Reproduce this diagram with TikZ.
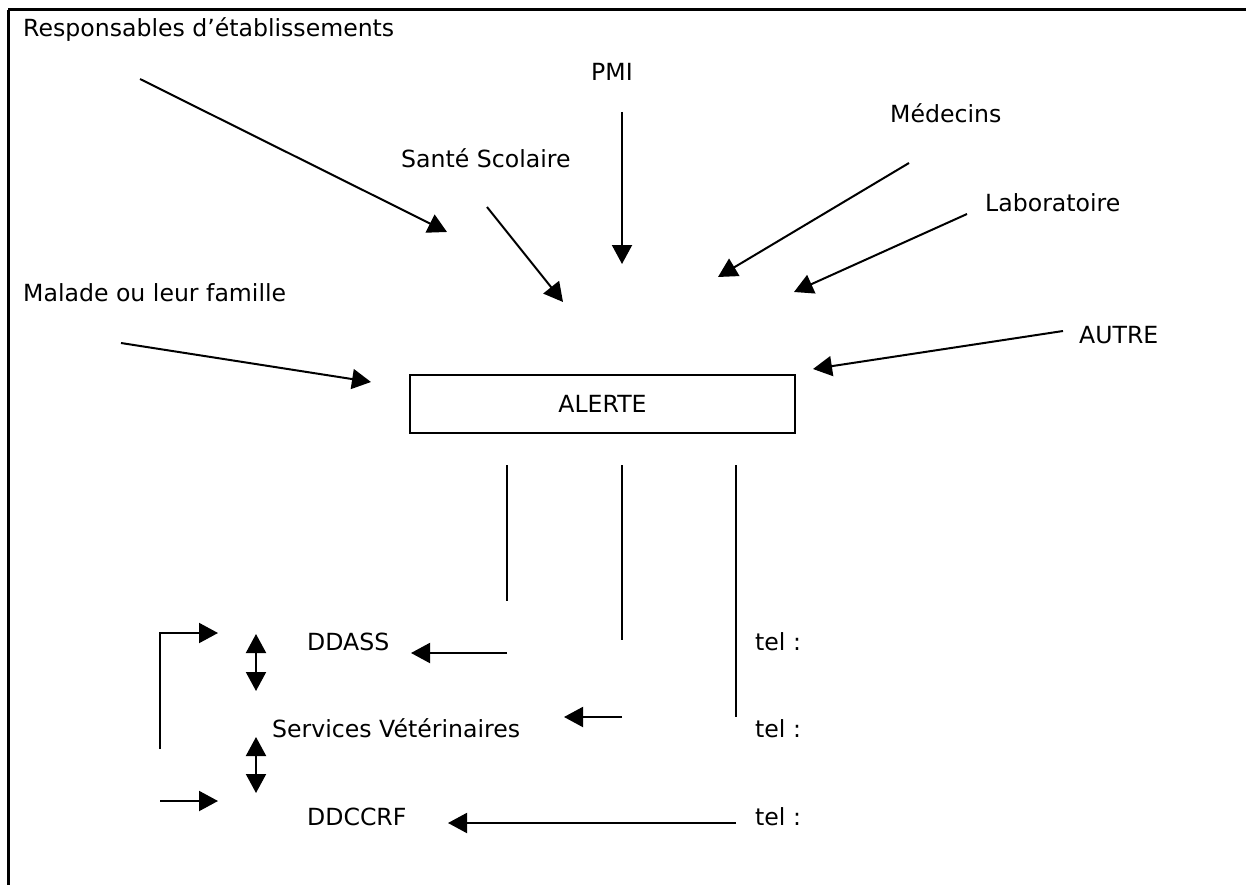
\documentclass[tikz,border=0pt]{standalone}
\usepackage{fontspec}
\setmainfont{DejaVu Sans}
\usetikzlibrary{arrows.meta}
\begin{document}
\begin{tikzpicture}[x=1pt,y=-1pt,
  lbl/.style={anchor=base west,inner sep=0pt,font=\fontsize{23.6}{28}\selectfont},
  conn/.style={line width=2pt},
  arr/.style={conn,-{Triangle[length=19pt,width=20pt]}},
  dbl/.style={conn,{Triangle[length=19pt,width=20pt]}-{Triangle[length=19pt,width=20pt]}},
  frame/.style={line width=3pt}]
\useasboundingbox (0,0) rectangle (1246,885);
% open frame: top and left edges
\draw[frame] (8,10) -- (1246,10);
\draw[frame] (8,10) -- (8,885);

% sources of the alert
\node[lbl] (resp) at (23,37) {Responsables d’établissements};
\node[lbl] (pmi) at (591,81) {PMI};
\node[lbl] (med) at (890,123) {Médecins};
\node[lbl] (sante) at (401,168) {Santé Scolaire};
\node[lbl] (labo) at (985,212) {Laboratoire};
\node[lbl] (malade) at (23,301) {Malade ou leur famille};
\node[lbl] (autre) at (1079,343) {AUTRE};

% central box
\node[draw,line width=2pt,minimum width=385pt,minimum height=58pt,inner sep=0pt,
      font=\fontsize{23.6}{28}\selectfont] (alerte) at (602.5,403.5) {ALERTE};

% arrow end points
\coordinate (resp0) at (140,79);   \coordinate (resp1) at (447,232);
\coordinate (sante0) at (487,207); \coordinate (sante1) at (563,302);
\coordinate (pmi0) at (622,112);   \coordinate (pmi1) at (622,264);
\coordinate (med0) at (909,163);   \coordinate (med1) at (718,277);
\coordinate (labo0) at (967,214);  \coordinate (labo1) at (794,292);
\coordinate (mal0) at (121,343);   \coordinate (mal1) at (371,382);
\coordinate (aut0) at (1063,331);  \coordinate (aut1) at (813,369);

\draw[arr] (resp0) -- (resp1);
\draw[arr] (sante0) -- (sante1);
\draw[arr] (pmi0) -- (pmi1);
\draw[arr] (med0) -- (med1);
\draw[arr] (labo0) -- (labo1);
\draw[arr] (mal0) -- (mal1);
\draw[arr] (aut0) -- (aut1);

% services to be contacted
\node[lbl] (ddass) at (307,650) {DDASS};
\node[lbl] (vet) at (272,737) {Services Vétérinaires};
\node[lbl] (ddccrf) at (307,825) {DDCCRF};
\node[lbl] (tel1) at (755,650) {tel :};
\node[lbl] (tel2) at (755,737) {tel :};
\node[lbl] (tel3) at (755,825) {tel :};

% descending lines and their arrows
\coordinate (v1a) at (507,465); \coordinate (v1b) at (507,653);
\coordinate (v2a) at (622,465); \coordinate (v2b) at (622,640);
\coordinate (v3a) at (736,465); \coordinate (v3b) at (736,717);
\coordinate (h1) at (411,653);
\coordinate (h2a) at (622,717); \coordinate (h2b) at (564,717);
\coordinate (h3a) at (736,823); \coordinate (h3b) at (448,823);

\draw[conn] (v1a) -- (507,601);
\draw[conn] (v2a) -- (v2b);
\draw[conn] (v3a) -- (v3b);
\draw[arr] (v1b) -- (h1);
\draw[arr] (h2a) -- (h2b);
\draw[arr] (h3a) -- (h3b);

% exchanges between services
\coordinate (d1a) at (256,634); \coordinate (d1b) at (256,691);
\coordinate (d2a) at (256,737); \coordinate (d2b) at (256,793);
\draw[dbl] (d1a) -- (d1b);
\draw[dbl] (d2a) -- (d2b);

% feedback arrows on the left
\coordinate (fb0) at (160,749); \coordinate (fb1) at (218,633);
\coordinate (fc0) at (160,801); \coordinate (fc1) at (218,801);
\draw[arr] (fb0) |- (fb1);
\draw[arr] (fc0) -- (fc1);
\end{tikzpicture}
\end{document}
